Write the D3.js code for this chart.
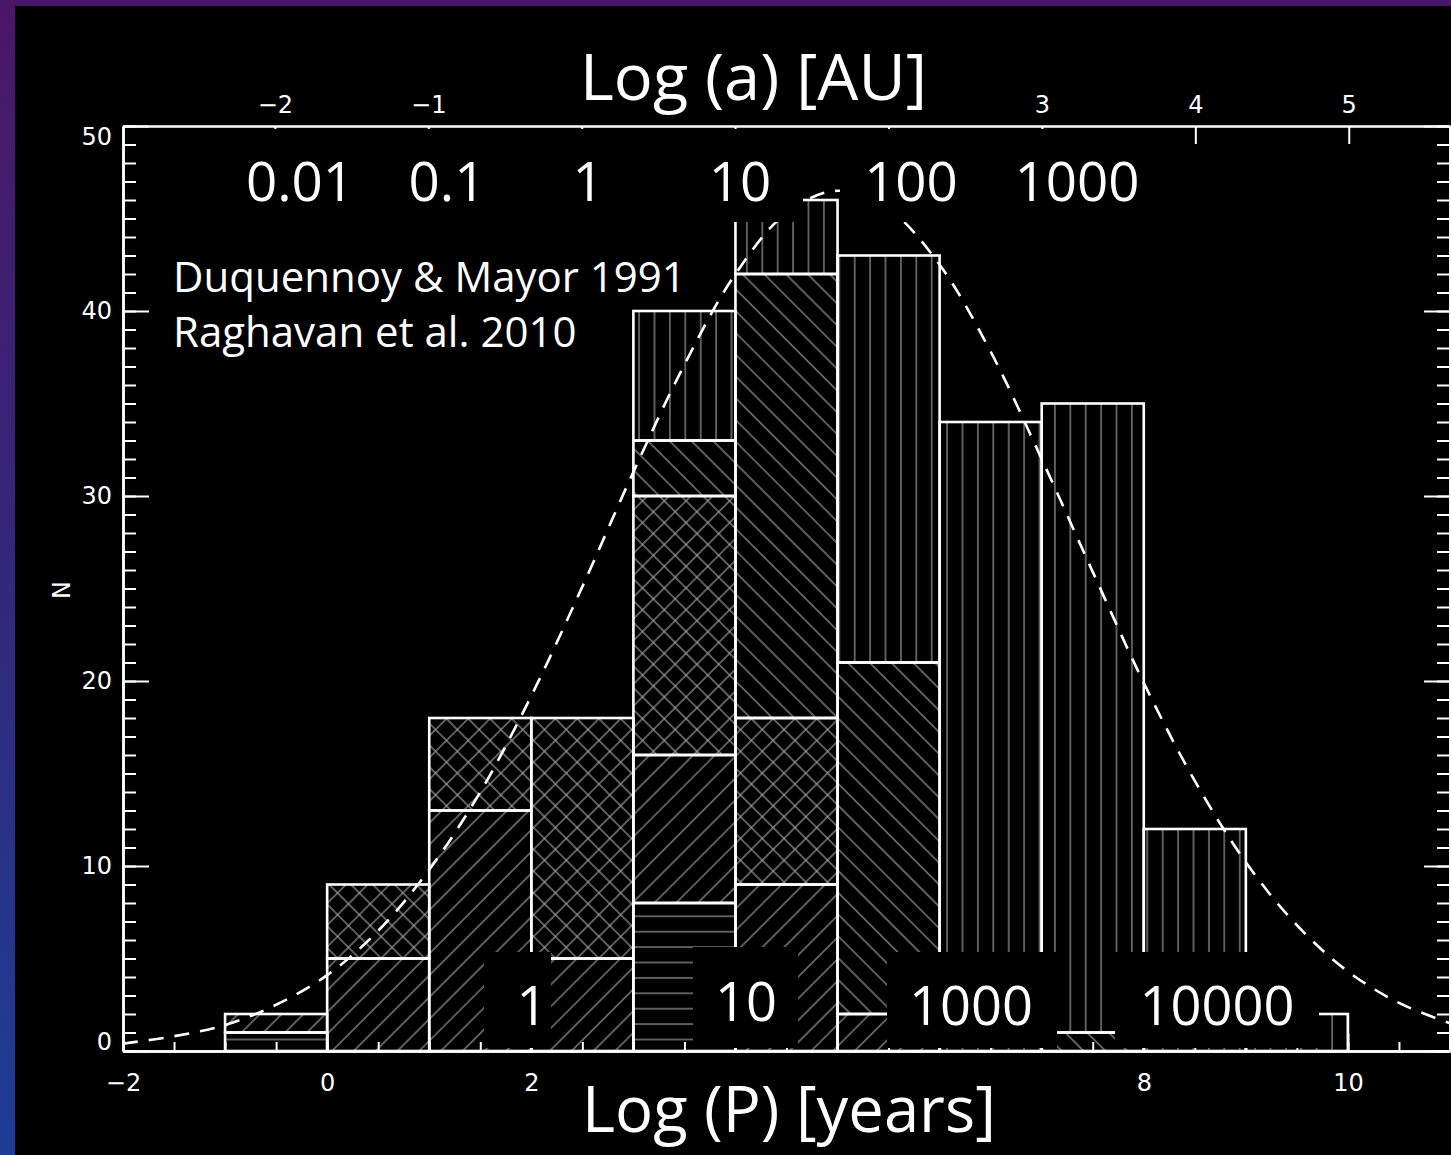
<!DOCTYPE html>
<html><head><meta charset="utf-8">
<script src="https://cdn.jsdelivr.net/npm/d3@7"></script>
<style>
html,body{margin:0;padding:0;background:#000;}
svg{display:block;}
</style></head><body>
<svg id="c" width="1451" height="1155"></svg>
<script>
// ---------------- data ----------------
const binStarts      = [-1, 0, 1, 2, 3, 4, 5, 6, 7, 8, 9];       // log P bin left edges, width 1
const horizontalHatch = [1, 0, 0, 0, 8, 0, 0, 0, 0, 0, 0];
const forwardHatch    = [1, 5, 13, 5, 8, 9, 2, 0, 0, 0, 0];
const crossHatch      = [0, 4, 5, 13, 14, 9, 0, 0, 0, 0, 0];
const backHatch       = [0, 0, 0, 0, 3, 24, 19, 0, 1, 0, 0];
const verticalHatch   = [0, 0, 0, 0, 7, 4, 22, 34, 34, 12, 2];

// dashed fit curve
const fitLogP = [-2,-1.5,-1,-0.5,0,0.5,1,1.5,2,2.5,3,3.5,4,4.5,5,5.5,6,6.5,7,7.5,8,8.5,9,9.5,10,10.5,11];
const fitN    = [0.4,0.8,1.4,2.5,4.1,6.5,9.8,14.0,19.2,25.1,31.3,37.1,42.0,45.3,46.5,45.5,42.5,37.8,32.0,25.9,19.9,14.6,10.2,6.8,4.3,2.6,1.5];

const xTickValues   = [-2, 0, 2, 4, 6, 8, 10];
const xTickShown    = [-2, 0, 2, 8, 10];          // 4 and 6 sit under the slide title
const yTickValues   = [0, 10, 20, 30, 40, 50];
const topTickValues = [-2, -1, 0, 1, 2, 3, 4, 5];
const topTickShown  = [-2, -1, 3, 4, 5];          // 0, 1, 2 sit under the slide title
const topTitle    = "Log (a) [AU]";
const bottomTitle = "Log (P) [years]";
const yTitle      = "N";
const auLabels    = ["0.01", "0.1", "1", "10", "100", "1000"];
const yearLabels  = ["1", "10", "1000", "10000"];
const sourceLines = ["Duquennoy & Mayor 1991", "Raghavan et al. 2010"];

// ---------------- layout ----------------
const W = 1451, H = 1155;
const svg = d3.select("#c");
const defs = svg.append("defs");

const bg = defs.append("linearGradient").attr("id","bg").attr("x1",0).attr("y1",0).attr("x2",0).attr("y2",1);
bg.append("stop").attr("offset","0%").attr("stop-color","#4a1766");
bg.append("stop").attr("offset","50%").attr("stop-color","#33287c");
bg.append("stop").attr("offset","100%").attr("stop-color","#1d3d96");
svg.append("rect").attr("width",W).attr("height",H).attr("fill","url(#bg)");
svg.append("rect").attr("x",15).attr("y",6).attr("width",W-15).attr("height",H-6).attr("fill","#000");

const x  = d3.scaleLinear().domain([-2, 11]).range([123, 1450]);
const y  = d3.scaleLinear().domain([0, 50]).range([1051, 126]);
const xa = d3.scaleLinear().domain([-2.99, 5.66]).range([123, 1450]);

// hatch patterns
const HATCH = "#a6a6a6", SP = 15.4;
function pattern(id, rot, lines){
  const p = defs.append("pattern").attr("id",id).attr("patternUnits","userSpaceOnUse")
    .attr("width",SP).attr("height",SP).attr("patternTransform",`rotate(${rot})`);
  if (lines.includes("v")) p.append("line").attr("x1",SP/2).attr("y1",-1).attr("x2",SP/2).attr("y2",SP+1)
      .attr("stroke",HATCH).attr("stroke-width",1.1);
  if (lines.includes("h")) p.append("line").attr("x1",-1).attr("y1",SP/2).attr("x2",SP+1).attr("y2",SP/2)
      .attr("stroke",HATCH).attr("stroke-width",1.1);
}
pattern("p-horiz", 0, "h");
pattern("p-vert", 0, "v");
pattern("p-fwd", 45, "v");
pattern("p-back", -45, "v");
pattern("p-cross", 45, "vh");

const keys = ["horizontal","forward","cross","back","vertical"];
const patFor = {horizontal:"p-horiz", forward:"p-fwd", cross:"p-cross", back:"p-back", vertical:"p-vert"};
const rows = binStarts.map((b,i)=>({bin:b, horizontal:horizontalHatch[i], forward:forwardHatch[i],
  cross:crossHatch[i], back:backHatch[i], vertical:verticalHatch[i]}));
const stacked = d3.stack().keys(keys)(rows);

const segs = [];
stacked.forEach(layer => layer.forEach(d => { if (d[1] > d[0]) segs.push({key:layer.key, bin:d.data.bin, y0:d[0], y1:d[1]}); }));

const gBars = svg.append("g");
gBars.selectAll("rect.fill").data(segs).join("rect").attr("class","fill")
  .attr("x", d=>x(d.bin)).attr("width", d=>x(d.bin+1)-x(d.bin))
  .attr("y", d=>y(d.y1)).attr("height", d=>y(d.y0)-y(d.y1))
  .attr("fill", d=>`url(#${patFor[d.key]})`);
gBars.selectAll("rect.edge").data(segs).join("rect").attr("class","edge")
  .attr("x", d=>x(d.bin)).attr("width", d=>x(d.bin+1)-x(d.bin))
  .attr("y", d=>y(d.y1)).attr("height", d=>y(d.y0)-y(d.y1))
  .attr("fill","none").attr("stroke","#fff").attr("stroke-width",2.6);

// dashed curve
const fitPts = fitLogP.map((v,i)=>[v, fitN[i]]);
svg.append("path").datum(fitPts)
  .attr("d", d3.line().x(d=>x(d[0])).y(d=>y(d[1])).curve(d3.curveCatmullRom))
  .attr("fill","none").attr("stroke","#fff").attr("stroke-width",2.6).attr("stroke-dasharray","15,11");

// axes
const fmt = d => (d < 0 ? "\u2212" + Math.abs(d) : String(d));
const TICKFONT = "'DejaVu Sans', Lato, sans-serif";
function styleAxis(g){
  g.attr("font-family", TICKFONT).attr("font-size", 24);
  g.select(".domain").attr("stroke","#fff").attr("stroke-width",2.6);
  g.selectAll(".tick line").attr("stroke","#fff").attr("stroke-width",2);
  g.selectAll(".tick text").attr("fill","#fff").attr("font-family",TICKFONT).attr("font-size",24);
}
const halfSteps = d3.range(-4, 23).map(i => i/2);
const unitSteps = d3.range(0, 51);

svg.append("g").attr("transform",`translate(0,${y(0)})`)
  .call(d3.axisBottom(x).tickValues(halfSteps).tickSizeInner(-9).tickSizeOuter(0).tickFormat(""))
  .call(styleAxis);
svg.append("g").attr("transform",`translate(0,${y(0)})`)
  .call(d3.axisBottom(x).tickValues(xTickValues).tickSizeInner(-18).tickSizeOuter(0).tickPadding(23)
        .tickFormat(d => xTickShown.includes(d) ? fmt(d) : ""))
  .call(styleAxis);

svg.append("g").attr("transform",`translate(0,${y(50)})`)
  .call(d3.axisTop(xa).tickValues(topTickValues).tickSizeInner(-18).tickSizeOuter(0).tickPadding(13)
        .tickFormat(d => topTickShown.includes(d) ? fmt(d) : ""))
  .call(styleAxis);

svg.append("g").attr("transform",`translate(${x(-2)},0)`)
  .call(d3.axisLeft(y).tickValues(unitSteps).tickSizeInner(-13).tickSizeOuter(0).tickFormat(""))
  .call(styleAxis);
const left = svg.append("g").attr("transform",`translate(${x(-2)},0)`)
  .call(d3.axisLeft(y).tickValues(yTickValues).tickSizeInner(-26).tickSizeOuter(0).tickPadding(11))
  .call(styleAxis);
left.selectAll(".tick text").attr("y", d => d === 0 ? -9 : (d === 50 ? 11 : 0));

svg.append("g").attr("transform",`translate(${x(11)},0)`)
  .call(d3.axisRight(y).tickValues(unitSteps).tickSizeInner(-13).tickSizeOuter(0).tickFormat(""))
  .call(styleAxis);
svg.append("g").attr("transform",`translate(${x(11)},0)`)
  .call(d3.axisRight(y).tickValues(yTickValues).tickSizeInner(-26).tickSizeOuter(0).tickFormat(""))
  .call(styleAxis);

svg.append("text").attr("transform","translate(70,590) rotate(-90)")
  .attr("text-anchor","middle").attr("fill","#fff")
  .attr("font-family",TICKFONT).attr("font-size",24).text(yTitle);

// ---------------- slide overlays ----------------
const FONT = "'Open Sans', 'Noto Sans', sans-serif";
const boxes = [
  [560, 6, 390, 118],      // top title
  [230, 129, 573, 93],     // 0.01 ... 10
  [840, 129, 320, 93],     // 100 1000
  [484, 952, 67, 96],      // 1
  [693, 947, 105, 101],    // 10
  [887, 952, 170, 96],     // 1000
  [1115, 952, 204, 96],    // 10000
  [560, 1054, 450, 101]    // bottom title
];
svg.append("g").selectAll("rect").data(boxes).join("rect")
  .attr("x",d=>d[0]).attr("y",d=>d[1]).attr("width",d=>d[2]).attr("height",d=>d[3]).attr("fill","#000");

const ov = svg.append("g").attr("fill","#fff").attr("font-family",FONT);
function fitSize(str, targetW){
  const t = ov.append("text").attr("font-size",100).text(str);
  const w = t.node().getComputedTextLength();
  t.remove();
  return 100 * targetW / w;
}
ov.append("text").attr("x",580).attr("y",100).attr("font-size",fitSize(topTitle, 347)).text(topTitle);
ov.append("text").attr("x",582).attr("y",1132).attr("font-size",fitSize(bottomTitle, 414)).text(bottomTitle);

const numSize = fitSize("1000", 125);
const auX = [300, 447, 588, 740, 911, 1077];
ov.selectAll("text.au").data(auLabels).join("text").attr("class","au")
  .attr("x",(d,i)=>auX[i]).attr("y",201).attr("text-anchor","middle").attr("font-size",numSize).text(d=>d);

const yrSize = fitSize("10000", 155);
const yrX = [532, 746, 971, 1217];
const yrY = [1025, 1021, 1025, 1025];
ov.selectAll("text.yr").data(yearLabels).join("text").attr("class","yr")
  .attr("x",(d,i)=>yrX[i]).attr("y",(d,i)=>yrY[i]).attr("text-anchor","middle").attr("font-size",yrSize).text(d=>d);

const srcSize = fitSize(sourceLines[0], 513);
ov.selectAll("text.src").data(sourceLines).join("text").attr("class","src")
  .attr("x",173).attr("y",(d,i)=>292 + i*55).attr("font-size",srcSize).text(d=>d);
</script>
</body></html>
